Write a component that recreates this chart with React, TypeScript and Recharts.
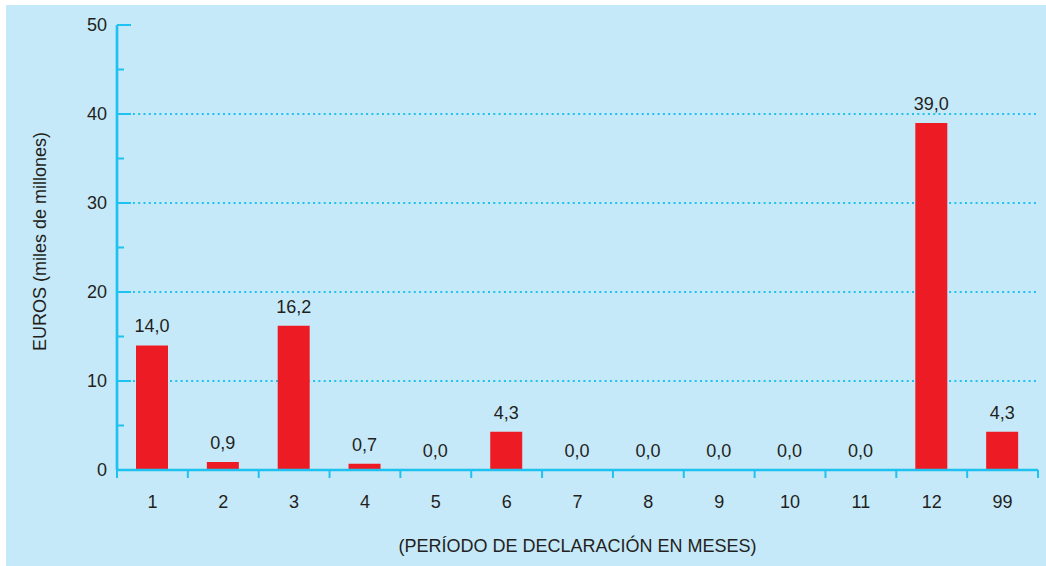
import React from "react";
import { BarChart, Bar, XAxis, YAxis, CartesianGrid, LabelList, Label } from "recharts";

const categories = ["1", "2", "3", "4", "5", "6", "7", "8", "9", "10", "11", "12", "99"];
const values = [14.0, 0.9, 16.2, 0.7, 0.0, 4.3, 0.0, 0.0, 0.0, 0.0, 0.0, 39.0, 4.3];
const yTicks = [0, 5, 10, 15, 20, 25, 30, 35, 40, 45, 50];
const gridValues = [10, 20, 30, 40];

const data = categories.map((cat, i) => ({ cat, value: values[i] }));

const W = 1046;
const H = 566;
const M = { top: 25, right: 8, bottom: 16, left: 17 };
const Y_AXIS_W = 100;
const X_AXIS_H = 80;
const PLOT_W = W - M.left - M.right - Y_AXIS_W;

const CYAN = "#1ec2f0";
const BG = "#c6e9f9";
const RED = "#ed1c24";
const TEXT = "#231f20";
const FONT = "'Liberation Sans', Arial, Helvetica, sans-serif";
const FS = 18;

const YTick = (props: any) => {
  const { x, y, payload } = props;
  const v = payload.value;
  const major = v % 10 === 0;
  return (
    <g>
      <line x1={x} x2={x + (major ? 14 : 7)} y1={y} y2={y} stroke={CYAN} strokeWidth={2} />
      {major && (
        <text x={x - 10} y={y} dy="0.36em" textAnchor="end" fill={TEXT} fontSize={FS} fontFamily={FONT}>
          {v}
        </text>
      )}
    </g>
  );
};

const XTick = (props: any) => {
  const { x, y, payload, index } = props;
  const bw = PLOT_W / categories.length;
  return (
    <g>
      <line x1={x - bw / 2} x2={x - bw / 2} y1={y} y2={y + 8} stroke={CYAN} strokeWidth={2} />
      {index === categories.length - 1 && (
        <line x1={x + bw / 2} x2={x + bw / 2} y1={y} y2={y + 8} stroke={CYAN} strokeWidth={2} />
      )}
      <text x={x} y={y + 38} textAnchor="middle" fill={TEXT} fontSize={FS} fontFamily={FONT}>
        {payload.value}
      </text>
    </g>
  );
};

const fmt = (v: any) => Number(v).toFixed(1).replace(".", ",");

export default function App() {
  return (
    <div style={{ position: "absolute", left: 0, top: 0, width: W, height: H, background: "#ffffff" }}>
      <div style={{ position: "absolute", left: 6, top: 5, width: W - 6, height: H - 5, background: BG }} />
      <div style={{ position: "absolute", left: 0, top: 0 }}>
        <BarChart width={W} height={H} data={data} margin={M} barSize={32}>
          <CartesianGrid
            horizontal={true}
            vertical={false}
            horizontalValues={gridValues}
            stroke={CYAN}
            strokeWidth={2}
            strokeDasharray="2 3.3"
          />
          <XAxis
            dataKey="cat"
            xAxisId="top"
            orientation="top"
            height={0}
            tick={false}
            tickLine={false}
            axisLine={{ stroke: CYAN, strokeWidth: 3 }}
          />
          <YAxis
            yAxisId="right"
            orientation="right"
            width={0}
            domain={[0, 50]}
            type="number"
            tick={false}
            tickLine={false}
            axisLine={{ stroke: CYAN, strokeWidth: 3 }}
          />
          <XAxis
            dataKey="cat"
            height={X_AXIS_H}
            tickSize={0}
            tickMargin={0}
            tickLine={false}
            interval={0}
            tick={<XTick />}
            axisLine={{ stroke: CYAN, strokeWidth: 2.5 }}
          >
            <Label
              value="(PERÍODO DE DECLARACIÓN EN MESES)"
              position="insideBottom"
              offset={-2}
              fill={TEXT}
              fontSize={FS}
              fontFamily={FONT}
            />
          </XAxis>
          <YAxis
            width={Y_AXIS_W}
            domain={[0, 50]}
            ticks={yTicks}
            interval={0}
            type="number"
            tickSize={0}
            tickMargin={0}
            tickLine={false}
            tick={<YTick />}
            axisLine={{ stroke: CYAN, strokeWidth: 2.7 }}
          >
            <Label
              value="EUROS (miles de millones)"
              angle={-90}
              position="insideLeft"
              offset={23}
              dy={-6}
              fill={TEXT}
              fontSize={FS}
              fontFamily={FONT}
              style={{ textAnchor: "middle" }}
            />
          </YAxis>
          <Bar dataKey="value" fill={RED} minPointSize={0.01} isAnimationActive={false}>
            <LabelList
              dataKey="value"
              position="top"
              offset={13}
              formatter={fmt}
              fill={TEXT}
              fontSize={FS}
              fontFamily={FONT}
            />
          </Bar>
        </BarChart>
      </div>
    </div>
  );
}
